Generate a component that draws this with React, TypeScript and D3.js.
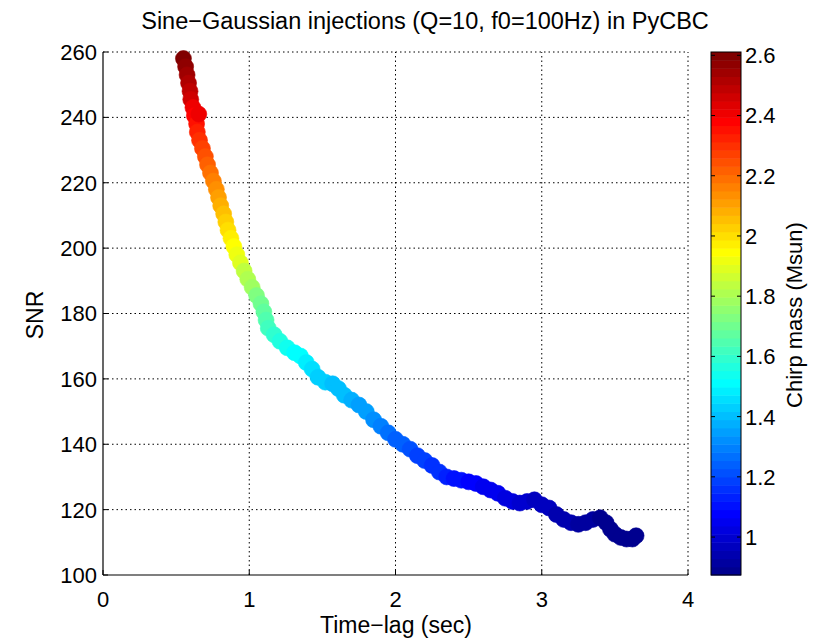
import React from "react";
import * as d3 from "d3";

const TIME = [
  0.55, 0.565, 0.575, 0.585, 0.595, 0.6, 0.615, 0.625, 0.64, 0.655, 0.645, 0.66, 0.68, 0.7, 0.715, 0.735,
  0.755, 0.775, 0.79, 0.805, 0.825, 0.84, 0.855, 0.875, 0.895, 0.915, 0.94, 0.965, 0.99, 1.02, 1.05,
  1.08, 1.1, 1.115, 1.13, 1.17, 1.21, 1.26, 1.31, 1.35, 1.39, 1.43, 1.47, 1.52, 1.57, 1.61, 1.65,
  1.7, 1.75, 1.8, 1.85, 1.9, 1.95, 2.0, 2.05, 2.1, 2.15, 2.2, 2.25, 2.3, 2.35, 2.4, 2.45, 2.5,
  2.55, 2.6, 2.65, 2.7, 2.75, 2.8, 2.85, 2.9, 2.95, 3.0, 3.05, 3.1, 3.15, 3.2, 3.25, 3.3, 3.35,
  3.4, 3.44, 3.47, 3.5, 3.54, 3.58, 3.62, 3.645,
];
const SNR = [
  258.0, 255.5, 253.0, 250.5, 248.0, 245.5, 243.0, 240.5, 238.0, 241.0, 235.5, 233.0, 230.5, 228.0, 225.5, 223.0,
  220.5, 218.0, 215.5, 213.0, 210.5, 208.0, 205.5, 203.0, 200.5, 198.0, 195.5, 193.0, 190.5, 188.0, 185.5,
  183.0, 180.5, 178.0, 175.5, 173.5, 171.5, 169.5, 168.0, 167.0, 165.0, 163.0, 160.5, 159.0, 158.5, 157.0, 155.0,
  153.5, 152.0, 150.0, 147.5, 145.5, 143.5, 141.5, 140.0, 138.5, 136.5, 135.0, 133.5, 131.5, 130.0, 129.5, 129.0, 128.5,
  128.0, 127.0, 126.0, 125.0, 123.5, 122.5, 122.0, 122.5, 123.0, 121.5, 120.5, 118.5, 117.0, 116.0, 115.5, 116.0, 117.0,
  117.5, 116.0, 114.0, 112.5, 111.5, 111.0, 111.0, 112.0,
];
const MASS = [
  2.6, 2.57, 2.54, 2.51, 2.48, 2.45, 2.42, 2.39, 2.36, 2.4, 2.33, 2.3, 2.27, 2.24, 2.21, 2.18,
  2.15, 2.13, 2.1, 2.08, 2.06, 2.03, 2.01, 1.98, 1.95, 1.92, 1.88, 1.84, 1.81, 1.78, 1.74,
  1.71, 1.68, 1.65, 1.62, 1.59, 1.57, 1.54, 1.52, 1.51, 1.48, 1.46, 1.43, 1.42, 1.41, 1.4, 1.39,
  1.37, 1.36, 1.34, 1.31, 1.29, 1.27, 1.25, 1.23, 1.21, 1.19, 1.18, 1.17, 1.15, 1.13, 1.11, 1.1, 1.09,
  1.08, 1.06, 1.05, 1.04, 1.02, 1.01, 1.0, 0.99, 0.98, 0.97, 0.96, 0.95, 0.94, 0.93, 0.92, 0.91, 0.91,
  0.9, 0.9, 0.89, 0.89, 0.88, 0.88, 0.88, 0.88,
];

const X_TICKS = [0, 1, 2, 3, 4];
const Y_TICKS = [100, 120, 140, 160, 180, 200, 220, 240, 260];
const CB_TICKS = [1, 1.2, 1.4, 1.6, 1.8, 2, 2.2, 2.4, 2.6];
const C_RANGE = [0.874, 2.611];

const FONT = "'Liberation Sans', Arial, Helvetica, sans-serif";

function jet(p: number): string {
  const c = (v: number) => Math.max(0, Math.min(1, v));
  const r = c(Math.min(4 * p - 1.5, -4 * p + 4.5));
  const g = c(Math.min(4 * p - 0.5, -4 * p + 3.5));
  const b = c(Math.min(4 * p + 0.5, -4 * p + 2.5));
  return d3.rgb(r * 255, g * 255, b * 255).formatHex();
}
const NLEV = 64;
const levelColor = (i: number) => jet((i + 1) / NLEV);
function massColor(m: number) {
  let i = Math.floor(((m - C_RANGE[0]) / (C_RANGE[1] - C_RANGE[0])) * NLEV);
  i = Math.max(0, Math.min(NLEV - 1, i));
  return levelColor(i);
}

export default function App() {
  const L = 103, R = 688, T = 52, B = 575;
  const x = d3.scaleLinear().domain([0, 4]).range([L, R]);
  const y = d3.scaleLinear().domain([100, 260]).range([B, T]);
  const cbL = 711, cbR = 741;
  const cy = d3.scaleLinear().domain(C_RANGE).range([B, T]);
  const pts = TIME.map((t, i) => ({ t, s: SNR[i], m: MASS[i] }));
  const levels = d3.range(NLEV);
  const lh = (B - T) / NLEV;
  const dash = "1.5,3";
  const tk = 5;
  return (
    <svg width={815} height={638} style={{ position: "absolute", left: 0, top: 0, background: "#fff" }} fontFamily={FONT}>
      <rect x={0} y={0} width={815} height={638} fill="#fff" />
      {X_TICKS.slice(1).map((v) => (
        <line key={"gx" + v} x1={x(v)} x2={x(v)} y1={B} y2={T} stroke="#000" strokeWidth={1} strokeDasharray={dash} />
      ))}
      {Y_TICKS.slice(1).map((v) => (
        <line key={"gy" + v} x1={L} x2={R} y1={y(v)} y2={y(v)} stroke="#000" strokeWidth={1} strokeDasharray={dash} />
      ))}
      {pts.map((p, i) => (
        <circle key={i} cx={x(p.t)} cy={y(p.s)} r={8} fill={massColor(p.m)} stroke={massColor(p.m)} strokeWidth={0.6} />
      ))}
      <line x1={L} x2={L} y1={T} y2={B} stroke="#000" strokeWidth={1.2} />
      <line x1={L} x2={R} y1={B} y2={B} stroke="#000" strokeWidth={1.2} />
      {Y_TICKS.map((v) => (
        <g key={"ty" + v}>
          <line x1={L} x2={L + tk} y1={y(v)} y2={y(v)} stroke="#000" strokeWidth={1} />
          <text x={L - 6} y={y(v)} dy="0.36em" textAnchor="end" fontSize={22}>{v}</text>
        </g>
      ))}
      {X_TICKS.map((v) => (
        <g key={"tx" + v}>
          <line x1={x(v)} x2={x(v)} y1={B} y2={B - tk} stroke="#000" strokeWidth={1} />
          <text x={x(v)} y={B + 32} textAnchor="middle" fontSize={22}>{v}</text>
        </g>
      ))}
      <text x={396} y={633} textAnchor="middle" fontSize={23}>Time−lag (sec)</text>
      <text transform={`translate(43,315) rotate(-90)`} textAnchor="middle" fontSize={23}>SNR</text>
      <text x={425} y={29} textAnchor="middle" fontSize={23.5}>Sine−Gaussian injections (Q=10, f0=100Hz) in PyCBC</text>
      {levels.map((i) => (
        <rect key={"cb" + i} x={cbL} width={cbR - cbL} y={B - (i + 1) * lh} height={lh + 0.5} fill={levelColor(i)} />
      ))}
      <rect x={cbL} y={T} width={cbR - cbL} height={B - T} fill="none" stroke="#000" strokeWidth={1} />
      {CB_TICKS.map((v) => (
        <g key={"cbt" + v}>
          <line x1={cbL} x2={cbL + 4} y1={cy(v)} y2={cy(v)} stroke="#000" strokeWidth={1} />
          <line x1={cbR} x2={cbR - 4} y1={cy(v)} y2={cy(v)} stroke="#000" strokeWidth={1} />
          <text x={cbR + 4} y={cy(v)} dy="0.36em" textAnchor="start" fontSize={22}>{v}</text>
        </g>
      ))}
      <text transform={`translate(802,315) rotate(-90)`} textAnchor="middle" fontSize={22}>Chirp mass (Msun)</text>
    </svg>
  );
}
